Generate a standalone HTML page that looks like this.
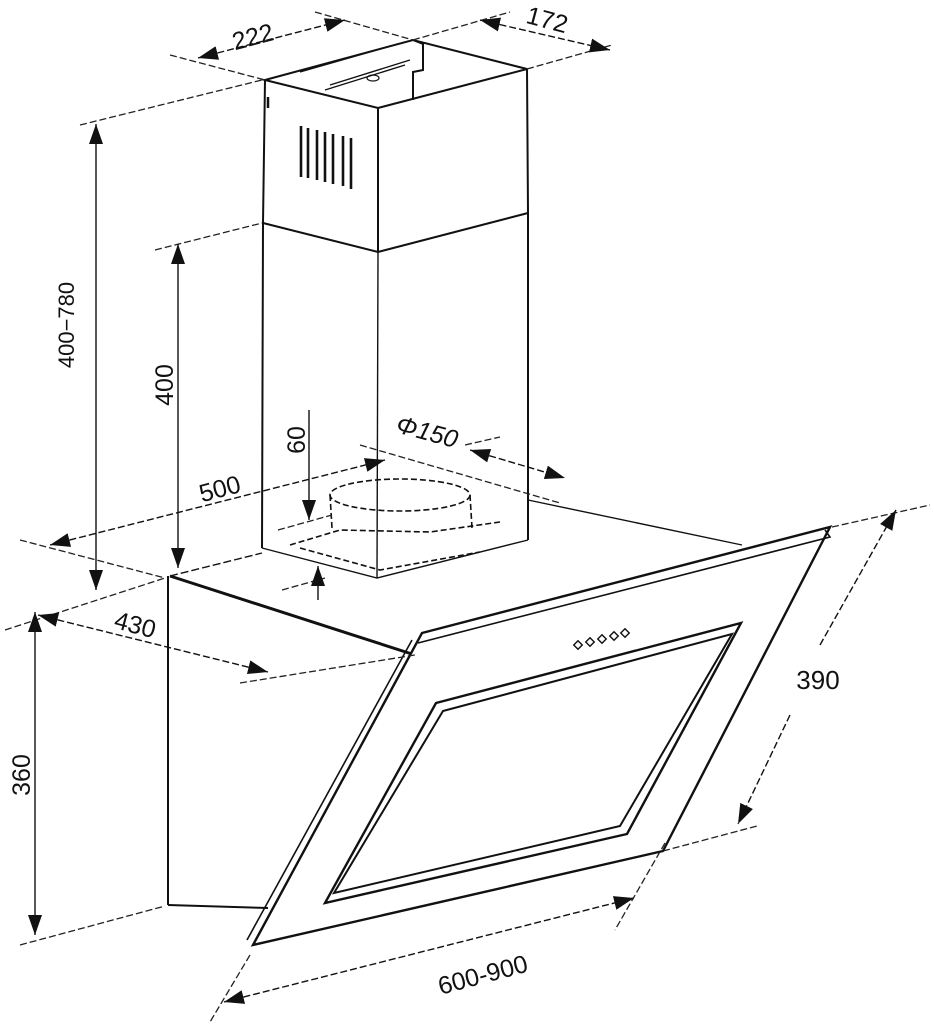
<!DOCTYPE html>
<html><head><meta charset="utf-8"><style>
html,body{margin:0;padding:0;background:#fff;}
svg{display:block;}
text{font-family:"Liberation Sans",sans-serif;fill:#111;}
</style></head><body>
<svg width="934" height="1024" viewBox="0 0 934 1024" xmlns="http://www.w3.org/2000/svg">
<defs>
<marker id="a" viewBox="0 0 10 10" refX="10" refY="5" markerWidth="20" markerHeight="20" markerUnits="userSpaceOnUse" orient="auto-start-reverse"><path d="M0,1.5 L10,5 L0,8.5 Z" fill="#111"/></marker>
</defs>
<g stroke="#111" fill="none" stroke-width="2">
<polygon points="265,80 378,108 527,69 413,40" />
<line x1="265" y1="80" x2="263" y2="223"/>
<line x1="378" y1="108" x2="378" y2="252"/>
<line x1="527" y1="69" x2="528" y2="213"/>
<polyline points="263,223 378,252 528,213"/>
<polyline points="413,40 423,44 423,70 413,72 413,100"/>
<path d="M300,72 L405,42 M330,85 L410,60 M325,90 L405,65" stroke-width="1.4"/>
<ellipse cx="373" cy="78" rx="6" ry="3" stroke-width="1.2"/>
<line x1="268" y1="97" x2="268" y2="108" stroke-width="2.5"/>
<g stroke-width="2.6">
<line x1="301" y1="126" x2="301" y2="177"/><line x1="308" y1="128" x2="308" y2="178"/>
<line x1="317" y1="130" x2="317" y2="180"/><line x1="325" y1="132" x2="325" y2="182"/>
<line x1="333" y1="134" x2="333" y2="184"/><line x1="343" y1="136" x2="343" y2="186"/>
<line x1="351" y1="138" x2="351" y2="189"/>
</g>
<line x1="263" y1="223" x2="262" y2="548"/>
<line x1="378" y1="252" x2="377" y2="578" stroke-width="1.4"/>
<line x1="528" y1="213" x2="528" y2="540"/>
<polyline points="262,548 377,578 528,540" stroke-width="1.4"/>
<g stroke-dasharray="6,3" stroke-width="1.6">
<ellipse cx="400" cy="495" rx="70" ry="16"/>
<line x1="330" y1="495" x2="332" y2="528"/>
<line x1="470" y1="495" x2="472" y2="528"/>
<polyline points="290,545 340,530 430,532 500,522"/>
<polyline points="300,548 380,570 480,552"/>
</g>
<line x1="170" y1="576" x2="262" y2="553" stroke-dasharray="8,3" stroke-width="1.4"/>
<line x1="170" y1="576" x2="415" y2="655" stroke-width="3"/>
<line x1="528" y1="500" x2="742" y2="545" stroke-width="1.4"/>
<line x1="168" y1="576" x2="168" y2="905"/>
<line x1="168" y1="905" x2="268" y2="908"/>
<polygon points="422,633 830,527 663,851 253,945" fill="#fff" stroke-width="2.4"/>
<polyline points="418,643 830,537 825,530" stroke-width="1.6"/>
<line x1="412" y1="640" x2="247" y2="940" stroke-width="1.6"/>
<polygon points="436,703 741,623 627,834 325,903" stroke-width="2.4"/>
<polygon points="443,711 732,634 620,826 334,893" stroke-width="2"/>
<g stroke-width="1.4">
<rect x="575" y="642" width="6" height="6" transform="rotate(45 578 645)"/>
<rect x="587" y="639" width="6" height="6" transform="rotate(45 590 642)"/>
<rect x="599" y="636" width="6" height="6" transform="rotate(45 602 639)"/>
<rect x="611" y="633" width="6" height="6" transform="rotate(45 614 636)"/>
<rect x="622" y="630" width="6" height="6" transform="rotate(45 625 633)"/>
</g>
</g>
<g stroke="#222" fill="none" stroke-width="1.3" stroke-dasharray="7,3">
<line x1="170" y1="55" x2="265" y2="80"/>
<line x1="315" y1="12" x2="413" y2="40"/>
<line x1="413" y1="40" x2="510" y2="12"/>
<line x1="527" y1="69" x2="612" y2="45"/>
<line x1="80" y1="125" x2="262" y2="80"/>
<line x1="155" y1="250" x2="262" y2="223"/>
<line x1="20" y1="540" x2="165" y2="578"/>
<line x1="5" y1="630" x2="165" y2="578"/>
<line x1="240" y1="683" x2="415" y2="655"/>
<line x1="278" y1="530" x2="332" y2="515"/>
<line x1="282" y1="590" x2="325" y2="578"/>
<line x1="360" y1="445" x2="560" y2="503"/>
<line x1="465" y1="445" x2="500" y2="437"/>
<line x1="832" y1="527" x2="930" y2="505"/>
<line x1="663" y1="851" x2="757" y2="826"/>
<line x1="20" y1="945" x2="165" y2="906"/>
<line x1="250" y1="955" x2="210" y2="1022"/>
<line x1="665" y1="843" x2="615" y2="930"/>
</g>
<g stroke="#111" fill="none" stroke-width="1.4" marker-start="url(#a)" marker-end="url(#a)">
<line x1="198" y1="58" x2="345" y2="20" stroke-dasharray="7,3"/>
<line x1="480" y1="20" x2="610" y2="50" stroke-dasharray="7,3"/>
<line x1="96" y1="124" x2="96" y2="590"/>
<line x1="178" y1="244" x2="178" y2="568"/>
<line x1="50" y1="545" x2="385" y2="460" stroke-dasharray="7,3"/>
<line x1="38" y1="615" x2="268" y2="672" stroke-dasharray="7,3"/>
<line x1="35" y1="612" x2="35" y2="935"/>
<line x1="470" y1="450" x2="565" y2="478" stroke-dasharray="7,3"/>
<line x1="224" y1="1002" x2="634" y2="898" stroke-dasharray="7,3"/>
</g>
<g stroke="#111" fill="none" stroke-width="1.4">
<line x1="309" y1="410" x2="309" y2="520" marker-end="url(#a)"/>
<line x1="318" y1="600" x2="318" y2="566" marker-end="url(#a)"/>
<line x1="820" y1="645" x2="896" y2="510" marker-end="url(#a)" stroke-dasharray="7,3"/>
<line x1="790" y1="715" x2="738" y2="824" marker-end="url(#a)" stroke-dasharray="7,3"/>
</g>
<g font-size="25">
<text x="255" y="45" text-anchor="middle" transform="rotate(-15 255 45)">222</text>
<text x="545" y="28" text-anchor="middle" transform="rotate(15 545 28)">172</text>
<text x="74" y="325" text-anchor="middle" transform="rotate(-90 74 325)" font-size="22">400−780</text>
<text x="173" y="385" text-anchor="middle" transform="rotate(-90 173 385)">400</text>
<text x="305" y="440" text-anchor="middle" transform="rotate(-90 305 440)">60</text>
<text x="425" y="440" text-anchor="middle" transform="rotate(15 425 440)" font-style="italic">Φ150</text>
<text x="222" y="497" text-anchor="middle" transform="rotate(-15 222 497)">500</text>
<text x="133" y="633" text-anchor="middle" transform="rotate(15 133 633)">430</text>
<text x="30" y="775" text-anchor="middle" transform="rotate(-90 30 775)">360</text>
<text x="818" y="689" text-anchor="middle" font-size="26">390</text>
<text x="485" y="983" text-anchor="middle" transform="rotate(-15 485 983)">600-900</text>
</g>
</svg>
</body></html>
